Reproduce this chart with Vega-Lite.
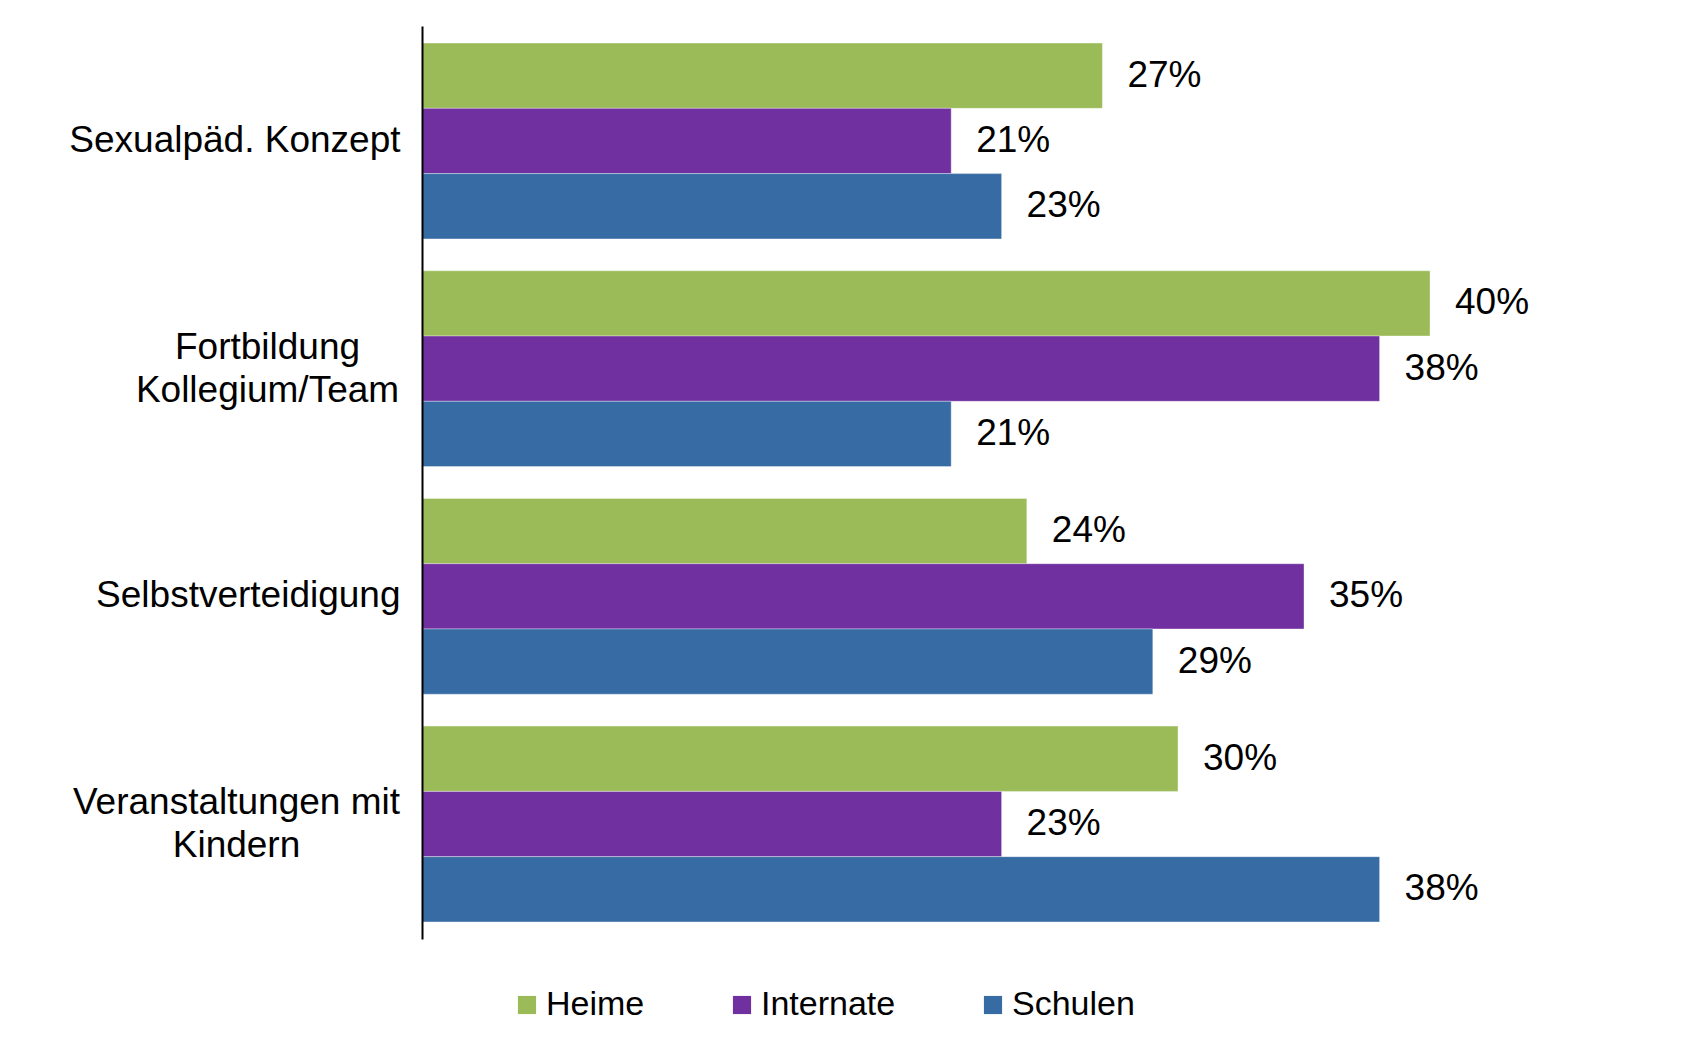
{
  "$schema": "https://vega.github.io/schema/vega-lite/v6.json",
  "autosize": "none",
  "width": 1134,
  "height": 913,
  "padding": {"left": 422, "top": 26, "right": 138, "bottom": 115},
  "background": "white",
  "config": {
    "view": {"stroke": null},
    "font": "Liberation Sans"
  },
  "data": {
    "values": [
      {"kategorie": "Sexualpäd. Konzept", "gruppe": "Heime", "wert": 0.27},
      {"kategorie": "Sexualpäd. Konzept", "gruppe": "Internate", "wert": 0.21},
      {"kategorie": "Sexualpäd. Konzept", "gruppe": "Schulen", "wert": 0.23},
      {"kategorie": "Fortbildung Kollegium/Team", "gruppe": "Heime", "wert": 0.40},
      {"kategorie": "Fortbildung Kollegium/Team", "gruppe": "Internate", "wert": 0.38},
      {"kategorie": "Fortbildung Kollegium/Team", "gruppe": "Schulen", "wert": 0.21},
      {"kategorie": "Selbstverteidigung", "gruppe": "Heime", "wert": 0.24},
      {"kategorie": "Selbstverteidigung", "gruppe": "Internate", "wert": 0.35},
      {"kategorie": "Selbstverteidigung", "gruppe": "Schulen", "wert": 0.29},
      {"kategorie": "Veranstaltungen mit Kindern", "gruppe": "Heime", "wert": 0.30},
      {"kategorie": "Veranstaltungen mit Kindern", "gruppe": "Internate", "wert": 0.23},
      {"kategorie": "Veranstaltungen mit Kindern", "gruppe": "Schulen", "wert": 0.38}
    ]
  },
  "encoding": {
    "y": {
      "field": "kategorie",
      "type": "nominal",
      "sort": null,
      "scale": {"paddingInner": 0.14, "paddingOuter": 0.075},
      "axis": {
        "title": null,
        "ticks": false,
        "zindex": 1,
        "domainColor": "#000000",
        "domainWidth": 2,
        "labelFont": "Liberation Sans",
        "labelFontSize": 37,
        "labelColor": "#000000",
        "labelLimit": 600,
        "labelLineHeight": 43,
        "labelExpr": "datum.value == 'Fortbildung Kollegium/Team' ? ['Fortbildung', 'Kollegium/Team'] : datum.value == 'Veranstaltungen mit Kindern' ? ['Veranstaltungen mit', 'Kindern'] : datum.value",
        "labelAlign": {"condition": {"test": "datum.value == 'Fortbildung Kollegium/Team' || datum.value == 'Veranstaltungen mit Kindern'", "value": "center"}, "value": "right"},
        "labelOffset": {"condition": {"test": "datum.value == 'Fortbildung Kollegium/Team' || datum.value == 'Veranstaltungen mit Kindern'", "value": -21}, "value": 0},
        "labelPadding": {"condition": [
          {"test": "datum.value == 'Fortbildung Kollegium/Team'", "value": 155},
          {"test": "datum.value == 'Veranstaltungen mit Kindern'", "value": 186}
        ], "value": 22}
      }
    },
    "yOffset": {
      "field": "gruppe",
      "type": "nominal",
      "sort": ["Heime", "Internate", "Schulen"],
      "scale": {"paddingInner": 0, "paddingOuter": 0}
    },
    "x": {
      "field": "wert",
      "type": "quantitative",
      "scale": {"domain": [0, 0.45]},
      "axis": null
    }
  },
  "layer": [
    {
      "mark": {"type": "bar", "stroke": "#ffffff", "strokeWidth": 0.6, "strokeOpacity": 0.6},
      "encoding": {
        "color": {
          "field": "gruppe",
          "type": "nominal",
          "sort": ["Heime", "Internate", "Schulen"],
          "scale": {"domain": ["Heime", "Internate", "Schulen"], "range": ["#9BBB59", "#7030A0", "#376BA4"]},
          "legend": {
            "title": null,
            "orient": "none",
            "direction": "horizontal",
            "legendX": 88,
            "legendY": 962,
            "symbolType": "square",
            "symbolSize": 330,
            "symbolStrokeWidth": 0,
            "labelFont": "Liberation Sans",
            "labelFontSize": 34,
            "labelColor": "#000000",
            "labelOffset": 2,
            "columnPadding": 80,
            "labelLimit": 400
          }
        }
      }
    },
    {
      "mark": {"type": "text", "align": "left", "baseline": "middle", "dx": 25, "font": "Liberation Sans", "fontSize": 37, "color": "#000000"},
      "encoding": {
        "text": {"field": "wert", "type": "quantitative", "format": ".0%"},
        "detail": {"field": "gruppe"}
      }
    }
  ]
}
